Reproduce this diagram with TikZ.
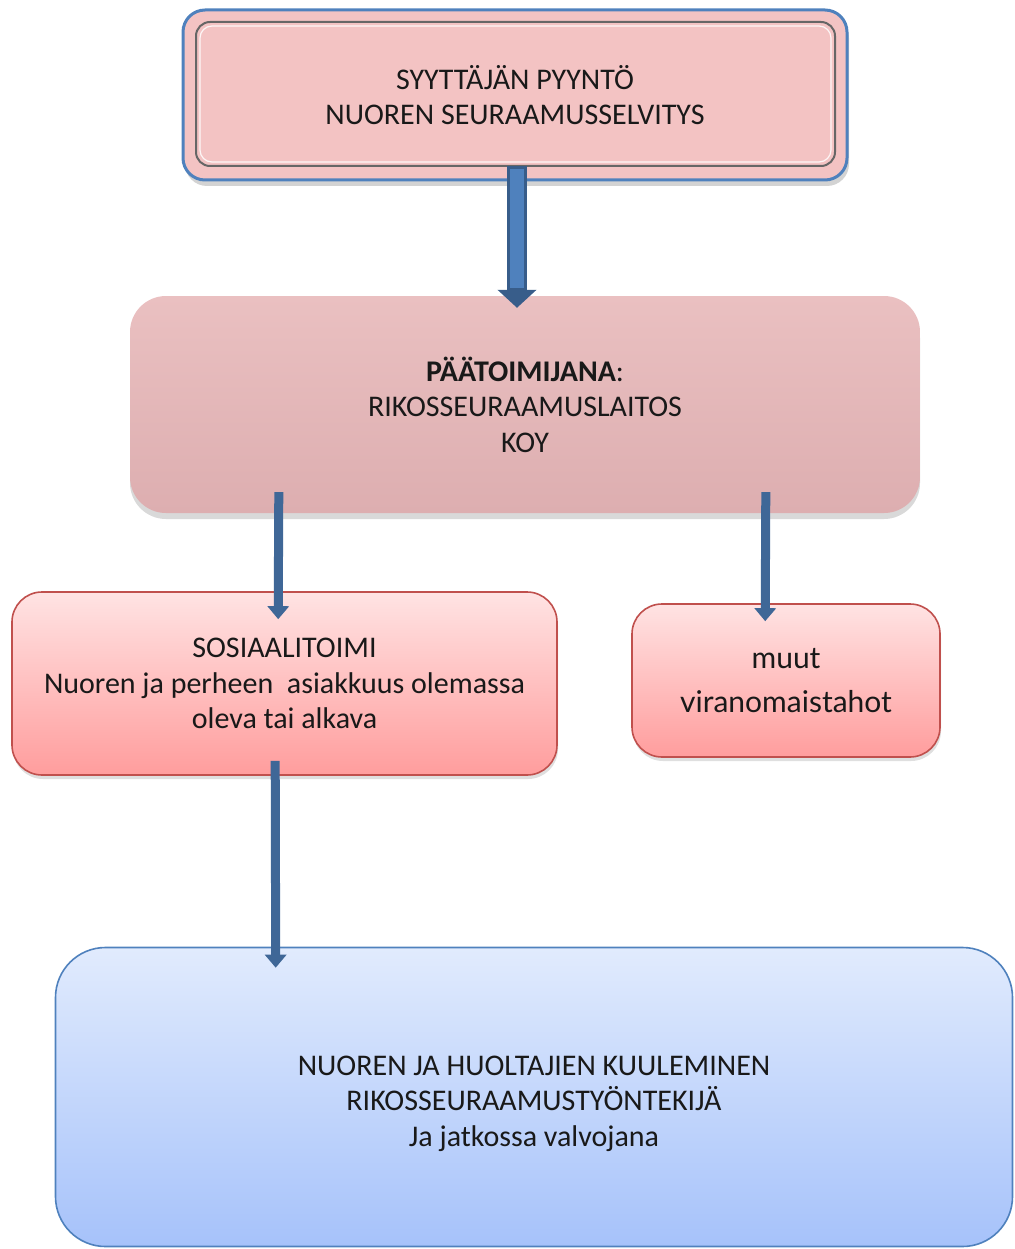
\documentclass[tikz,border=0pt]{standalone}
\usepackage{fontspec}
\setmainfont{Carlito}
\newfontfamily\muutfont{Lato}
\usetikzlibrary{arrows.meta,calc,shadows}
\definecolor{bArrow}{HTML}{4F81BD}
\definecolor{bArrowEdge}{HTML}{385D8A}
\definecolor{sArrow}{HTML}{3F6797}
\definecolor{topFill}{HTML}{F3C3C3}
\definecolor{topEdge}{HTML}{4F81BD}
\definecolor{midTop}{HTML}{EAC0C1}
\definecolor{midBot}{HTML}{DDAEB0}
\definecolor{redTop}{HTML}{FFE3E3}
\definecolor{redBot}{HTML}{FF9D9D}
\definecolor{redEdge}{HTML}{C0504D}
\definecolor{bluTop}{HTML}{E1EBFD}
\definecolor{bluBot}{HTML}{A6C2FA}
\definecolor{bluEdge}{HTML}{4F81BD}
\tikzset{
  boxtext/.style={align=center, font=\fontsize{30}{35.5}\selectfont, text=black!90, inner sep=0pt},
  topbox/.style={boxtext, rounded corners=22pt, draw=topEdge, line width=3pt, fill=topFill,
     drop shadow={shadow xshift=2pt, shadow yshift=-6pt, opacity=0.35}},
  midbox/.style={boxtext, rounded corners=36pt, top color=midTop, bottom color=midBot,
     drop shadow={shadow xshift=0pt, shadow yshift=-6pt, opacity=0.3}},
  redbox/.style={boxtext, rounded corners=30pt, draw=redEdge, line width=1.6pt, top color=redTop, bottom color=redBot,
     drop shadow={shadow xshift=1pt, shadow yshift=-4pt, opacity=0.25}},
  blubox/.style={boxtext, rounded corners=50pt, draw=bluEdge, line width=1.6pt, top color=bluTop, bottom color=bluBot},
  bigarrow/.style={draw=bArrowEdge, line width=20pt, -{Triangle[width=38pt,length=18pt]}},
  bigarrowin/.style={draw=bArrow, line width=14pt, shorten >=14pt},
  smallarrow/.style={draw=sArrow, line width=9pt, -{Triangle[width=21pt,length=13pt]}},
}
\begin{document}
\begin{tikzpicture}[x=1pt,y=-1pt]
\useasboundingbox (0,0) rectangle (1014,1249);
\node[topbox, minimum width=664pt, minimum height=170pt] (top) at (515,95)
  {SYYTTÄJÄN PYYNTÖ\\NUOREN SEURAAMUSSELVITYS};
\draw[rounded corners=14pt, draw=black!60, line width=2pt] (196,22) rectangle (835,166);
\draw[rounded corners=12pt, draw=white!85!topFill, line width=1.2pt] (200,26) rectangle (831,162);
\node[midbox, minimum width=790pt, minimum height=217pt] (mid) at (525,404.5)
  {\textbf{PÄÄTOIMIJANA}:\\RIKOSSEURAAMUSLAITOS\\KOY};
\node[redbox, minimum width=545pt, minimum height=183pt] (soc) at (284.5,683.5)
  {SOSIAALITOIMI\\Nuoren ja perheen\ \ asiakkuus olemassa\\oleva tai alkava};
\node[redbox, minimum width=308pt, minimum height=153pt, font=\muutfont\fontsize{30}{44}\selectfont] (muut) at (786,680.5)
  {muut\\viranomaistahot};
\node[blubox, minimum width=957pt, minimum height=299pt] (huol) at (534,1097)
  {\mbox{}\\[-2.5pt]NUOREN JA HUOLTAJIEN KUULEMINEN\\RIKOSSEURAAMUSTYÖNTEKIJÄ\\Ja jatkossa valvojana};
% arrows
\draw[bigarrow] ($(top.south)+(2,-15)$) -- ($(mid.north)+(-8,12)$);
\draw[bigarrowin] ($(top.south)+(2,-12)$) -- ($(mid.north)+(-8,6)$);
\draw[smallarrow] ($(mid.south west)+(149,-21)$) -- ($(soc.north west)+(267,28)$);
\draw[smallarrow] ($(mid.south west)+(636,-21)$) -- ($(muut.north west)+(134,18)$);
\draw[smallarrow] ($(soc.south west)+(264,-15)$) -- ($(huol.north west)+(221,21)$);
\end{tikzpicture}
\end{document}
